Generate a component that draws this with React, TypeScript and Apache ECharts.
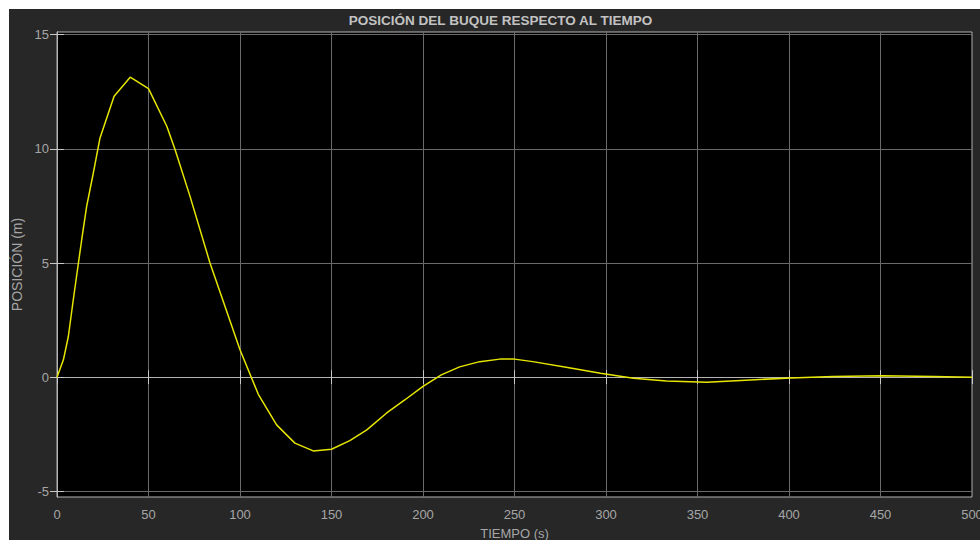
import React, { useEffect, useRef } from "react";
import * as echarts from "echarts";

const titleText = "POSICIÓN DEL BUQUE RESPECTO AL TIEMPO";
const xName = "TIEMPO (s)";
const yName = "POSICIÓN (m)";

const times = [0, 3.5, 6.2, 8.9, 11.7, 13.5, 16.2, 19.5, 23.5, 31.2, 40, 50, 60, 64.5, 72.7, 83.6, 100, 110, 120, 130, 140, 150, 160, 169.3, 180, 190, 200, 210, 220, 231, 242, 250, 260, 279, 297, 315, 333, 355, 379, 401, 424, 451, 479, 500];
const positions = [0, 0.76, 1.78, 3.39, 5.0, 6.02, 7.48, 8.8, 10.48, 12.31, 13.14, 12.64, 10.99, 9.97, 7.92, 5.0, 1.2, -0.75, -2.09, -2.89, -3.23, -3.16, -2.78, -2.31, -1.58, -1.0, -0.4, 0.1, 0.45, 0.68, 0.79, 0.79, 0.68, 0.42, 0.17, -0.05, -0.17, -0.22, -0.12, -0.04, 0.03, 0.06, 0.03, 0.0];

const yTicks = [-5, 0, 5, 10, 15];
const xMin = 0;
const xMax = 500;
const xInterval = 50;
const yMin = -5.25;
const yMax = 15.12;

export default function App() {
  const ref = useRef<HTMLDivElement>(null);
  useEffect(() => {
    if (!ref.current) return;
    const chart = echarts.init(ref.current, undefined, { renderer: "svg" });
    const font = "'Liberation Sans', Arial, sans-serif";
    const labelColor = "#a6a6a6";
    const frameColor = "#b4b4b4";
    const gridColor = "#6a6a6a";
    const tickStyle = { show: true, inside: true, length: 7, lineStyle: { color: "#c8c8c8", width: 1 } };
    chart.setOption({
      animation: false,
      backgroundColor: "#272727",
      textStyle: { fontFamily: font },
      graphic: [
        { type: "rect", shape: { x: 0, y: 0, width: 980, height: 9 }, style: { fill: "#ffffff" }, silent: true },
        { type: "rect", shape: { x: 0, y: 0, width: 9, height: 540 }, style: { fill: "#ffffff" }, silent: true },
        {
          type: "text",
          x: 500.5,
          y: 20,
          style: {
            text: titleText,
            fill: "#c2c2c2",
            font: "bold 13.5px 'Liberation Sans', Arial, sans-serif",
            textAlign: "center",
            textVerticalAlign: "middle",
          },
        },
      ],
      grid: {
        left: 57,
        top: 32,
        right: 8,
        bottom: 43,
        containLabel: false,
        outerBoundsMode: "none",
        show: true,
        backgroundColor: "#000000",
        borderColor: frameColor,
        borderWidth: 1,
      },
      xAxis: [
        {
          type: "value",
          min: xMin,
          max: xMax,
          interval: xInterval,
          position: "bottom",
          name: xName,
          nameLocation: "middle",
          nameGap: 30,
          nameTextStyle: { color: labelColor, fontSize: 13, fontFamily: font },
          axisLine: { show: true, lineStyle: { color: frameColor } },
          axisTick: tickStyle,
          axisLabel: { color: labelColor, fontSize: 13, margin: 11, fontFamily: font },
          splitLine: { show: true, lineStyle: { color: gridColor, width: 1 } },
        },
        {
          type: "value",
          min: xMin,
          max: xMax,
          interval: xInterval,
          position: "top",
          axisLine: { show: true, lineStyle: { color: frameColor } },
          axisTick: tickStyle,
          axisLabel: { show: false },
          splitLine: { show: false },
        },
      ],
      yAxis: [
        {
          type: "value",
          min: yMin,
          max: yMax,
          position: "left",
          name: yName,
          nameLocation: "middle",
          nameGap: 31,
          nameTextStyle: { color: labelColor, fontSize: 14, fontFamily: font },
          axisLine: { show: true, lineStyle: { color: frameColor } },
          axisTick: { ...tickStyle, customValues: yTicks },
          axisLabel: { color: labelColor, fontSize: 13, margin: 8, customValues: yTicks, fontFamily: font },
          splitLine: { show: true, lineStyle: { color: gridColor, width: 1 } },
        },
        {
          type: "value",
          min: yMin,
          max: yMax,
          position: "right",
          axisLine: { show: true, lineStyle: { color: frameColor } },
          axisTick: { ...tickStyle, customValues: yTicks },
          axisLabel: { show: false, customValues: yTicks },
          splitLine: { show: false },
        },
      ],
      series: [
        {
          type: "line",
          xAxisIndex: 0,
          yAxisIndex: 0,
          data: times.map((t, i) => [t, positions[i]]),
          showSymbol: false,
          symbol: "none",
          lineStyle: { color: "#e6e600", width: 1.5 },
          z: 5,
        },
      ],
    });
    return () => chart.dispose();
  }, []);
  return (
    <div
      ref={ref}
      style={{ position: "fixed", left: 0, top: 0, width: 980, height: 540 }}
    />
  );
}
